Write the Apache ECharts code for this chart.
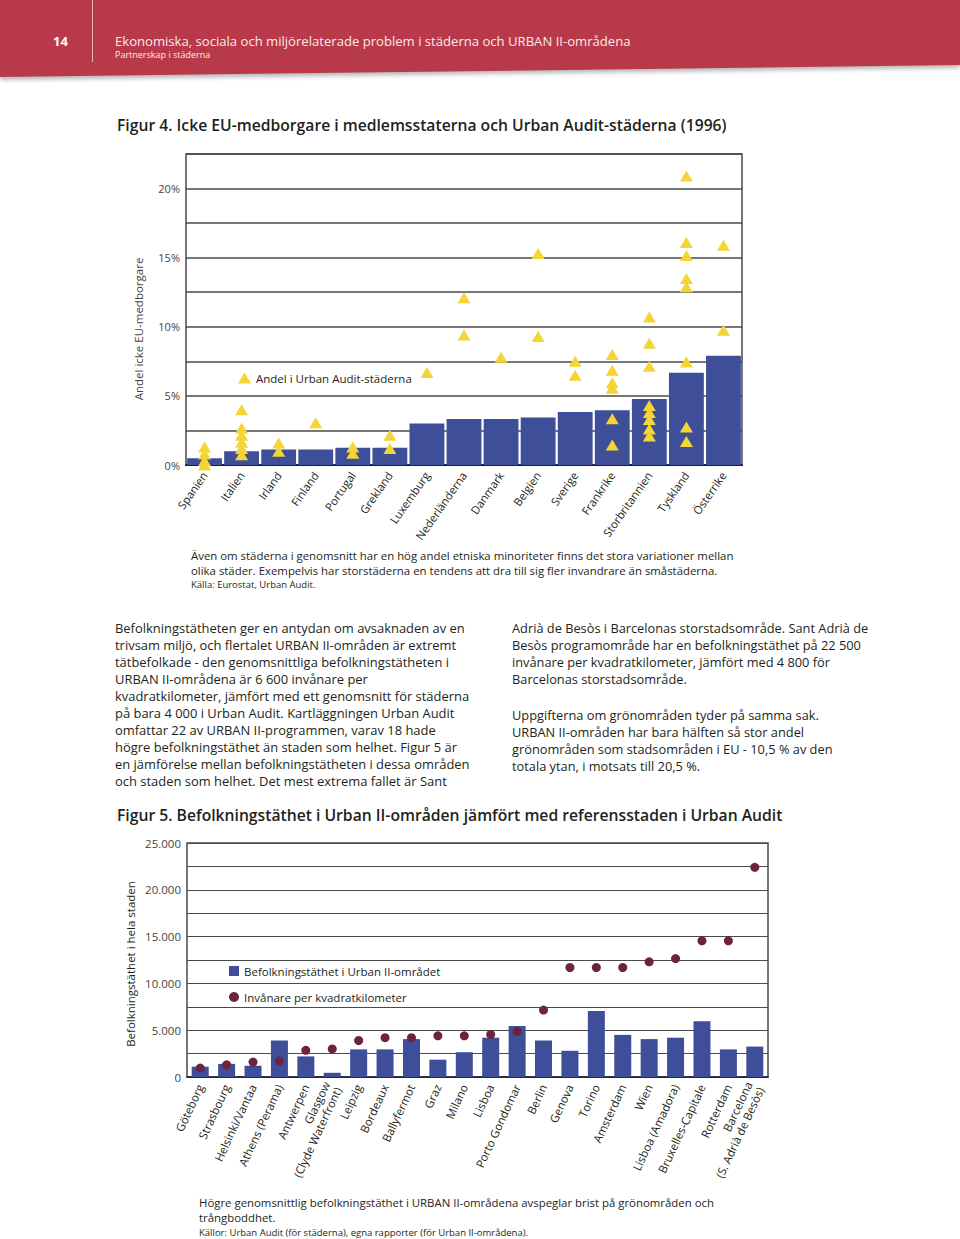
<!DOCTYPE html>
<html><head><meta charset="utf-8">
<script src="https://cdn.jsdelivr.net/npm/echarts/dist/echarts.min.js"></script>
<style>
html,body{margin:0;padding:0;background:#fff;}
#page{position:relative;width:960px;height:1239px;overflow:hidden;font-family:"Open Sans",sans-serif;color:#231f20;}
#chart{position:absolute;left:0;top:0;width:960px;height:1239px;}
.t{position:absolute;white-space:pre;}
</style></head>
<body><div id="page">
<svg style="position:absolute;left:0;top:0" width="960" height="90">
  <defs><filter id="sh" x="-5%" y="-50%" width="110%" height="200%"><feGaussianBlur stdDeviation="2"/></filter></defs>
  <polygon points="0,2 960,2 960,68 0,80" fill="#9a9a9a" filter="url(#sh)" opacity="0.7"/>
  <polygon points="0,0 960,0 960,65 0,77" fill="#b83a4a"/>
  <line x1="92.5" y1="0" x2="92.5" y2="62" stroke="#e8b9bf" stroke-width="1"/>
</svg>
<div class="t" style="left:53px;top:34px;font-size:13px;line-height:14px;font-weight:700;color:#fff;">14</div>
<div class="t" style="left:115px;top:34px;font-size:13.1px;line-height:14px;color:#fbe9eb;">Ekonomiska, sociala och miljörelaterade problem i städerna och URBAN II-områdena</div>
<div class="t" style="left:115px;top:49px;font-size:9px;line-height:11px;color:#fbe9eb;">Partnerskap i städerna</div>

<div class="t" style="left:117px;top:115px;font-size:15.7px;line-height:20px;font-weight:600;">Figur 4. Icke EU-medborgare i medlemsstaterna och Urban Audit-städerna (1996)</div>

<div id="chart"></div>

<div class="t" style="left:191px;top:548px;font-size:11.4px;line-height:15px;">Även om städerna i genomsnitt har en hög andel etniska minoriteter finns det stora variationer mellan
olika städer. Exempelvis har storstäderna en tendens att dra till sig fler invandrare än småstäderna.</div>
<div class="t" style="left:191px;top:578px;font-size:9.5px;line-height:14px;">Källa: Eurostat, Urban Audit.</div>

<div class="t" style="left:115px;top:620px;font-size:12.95px;line-height:17px;">Befolkningstätheten ger en antydan om avsaknaden av en
trivsam miljö, och flertalet URBAN II-områden är extremt
tätbefolkade - den genomsnittliga befolkningstätheten i
URBAN II-områdena är 6 600 invånare per
kvadratkilometer, jämfört med ett genomsnitt för städerna
på bara 4 000 i Urban Audit. Kartläggningen Urban Audit
omfattar 22 av URBAN II-programmen, varav 18 hade
högre befolkningstäthet än staden som helhet. Figur 5 är
en jämförelse mellan befolkningstätheten i dessa områden
och staden som helhet. Det mest extrema fallet är Sant</div>
<div class="t" style="left:512px;top:620px;font-size:12.8px;line-height:17px;">Adrià de Besòs i Barcelonas storstadsområde. Sant Adrià de
Besòs programområde har en befolkningstäthet på 22 500
invånare per kvadratkilometer, jämfört med 4 800 för
Barcelonas storstadsområde.</div>
<div class="t" style="left:512px;top:707px;font-size:12.8px;line-height:17px;">Uppgifterna om grönområden tyder på samma sak.
URBAN II-områden har bara hälften så stor andel
grönområden som stadsområden i EU - 10,5 % av den
totala ytan, i motsats till 20,5 %.</div>

<div class="t" style="left:117px;top:805px;font-size:15.7px;line-height:20px;font-weight:600;">Figur 5. Befolkningstäthet i Urban II-områden jämfört med referensstaden i Urban Audit</div>

<div class="t" style="left:199px;top:1195px;font-size:11.4px;line-height:15px;">Högre genomsnittlig befolkningstäthet i URBAN II-områdena avspeglar brist på grönområden och
trångboddhet.</div>
<div class="t" style="left:199px;top:1226px;font-size:9.5px;line-height:14px;">Källor: Urban Audit (för städerna), egna rapporter (för Urban II-områdena).</div>
</div>
<script>
// ---- Figur 4 data ----
const countries = ['Spanien','Italien','Irland','Finland','Portugal','Grekland','Luxemburg','Nederländerna','Danmark','Belgien','Sverige','Frankrike','Storbritannien','Tyskland','Österrike'];
const nationalShare = [0.48,1.0,1.13,1.13,1.25,1.25,3.0,3.32,3.32,3.44,3.84,3.97,4.78,6.68,7.91];
const cityShares = [
  [1.3,0.8,0.3,0.0],
  [4.0,2.65,2.15,1.65,1.2,0.75],
  [1.6,1.0],
  [3.05],
  [1.3,0.85],
  [2.15,1.2],
  [6.7],
  [12.1,9.4],
  [7.8],
  [15.3,9.3],
  [7.5,6.5],
  [8.0,6.85,5.95,5.55,3.35,1.45],
  [10.7,8.8,7.15,4.3,3.8,3.3,2.6,2.1],
  [20.9,16.1,15.15,13.5,12.9,7.45,2.75,1.7],
  [15.9,9.75]
];
const shareLabelStep = 5;

// ---- Figur 5 data ----
const cities = ['Göteborg','Strasbourg','Helsinki/Vantaa','Athens (Perama)','Antwerpen','Glasgow\n(Clyde Waterfront)','Leipzig','Bordeaux','Ballyfermot','Graz','Milano','Lisboa','Porto Gondomar','Berlin','Genova','Torino','Amsterdam','Wien','Lisboa (Amadora)','Bruxelles-Capitale','Rotterdam','Barcelona\n(S. Adrià de Besòs)'];
const urbanDensity = [1100,1400,1200,3900,2200,450,2950,2950,4050,1850,2650,4200,5450,3900,2800,7050,4500,4050,4200,5950,2950,3250];
const cityDensity = [950,1300,1600,1700,2850,3000,3900,4200,4200,4400,4400,4550,4850,7150,11700,11700,11700,12300,12650,14550,14550,22400];
const densityLabelStep = 5000;

const scatterPts = [];
cityShares.forEach((arr,i)=>arr.forEach(v=>scatterPts.push([i,v])));

const chart = echarts.init(document.getElementById('chart'), null, {renderer:'svg', width:960, height:1239});
const FONT = '"Open Sans", sans-serif';
const BLUE = '#3e4e99';
chart.setOption({
  animation:false,
  textStyle:{fontFamily:FONT},
  grid:[
    {left:186,top:154,width:556,height:311,show:true,borderColor:'#4a4a4a',borderWidth:1.5,backgroundColor:'transparent'},
    {left:187,top:843,width:581,height:234,show:true,borderColor:'#4a4a4a',borderWidth:1.5,backgroundColor:'transparent'}
  ],
  legend:[
    {left:233,top:367,itemWidth:13,itemHeight:11,icon:'triangle',data:['Andel i Urban Audit-städerna'],
     textStyle:{fontSize:11.5,color:'#231f20',fontFamily:FONT}},
    {left:224,top:960,orient:'vertical',itemWidth:10,itemHeight:10,itemGap:14,
     data:[{name:'Befolkningstäthet i Urban II-området',icon:'rect'},{name:'Invånare per kvadratkilometer',icon:'circle'}],
     textStyle:{fontSize:11.5,color:'#231f20',fontFamily:FONT}}
  ],
  xAxis:[
    {type:'category',gridIndex:0,data:countries,axisTick:{show:false},
     axisLine:{lineStyle:{color:'#1c1c3a',width:2}},
     axisLabel:{interval:0,rotate:55,fontSize:11.3,color:'#231f20',margin:8,fontFamily:FONT}},
    {type:'category',gridIndex:1,data:cities,axisTick:{show:false},
     axisLine:{lineStyle:{color:'#1c1c3a',width:1.5}},
     axisLabel:{interval:0,rotate:65,fontSize:11.5,lineHeight:13,color:'#231f20',margin:8,fontFamily:FONT}}
  ],
  yAxis:[
    {type:'value',gridIndex:0,min:0,max:22.5,interval:2.5,
     axisLine:{show:false},axisTick:{show:false},
     splitLine:{lineStyle:{color:'#4a4a4a',width:1.5}},
     axisLabel:{fontSize:11,color:'#444',margin:6,fontFamily:FONT,
       formatter:v=> (Math.abs(v/shareLabelStep-Math.round(v/shareLabelStep))<1e-6 ? Math.round(v)+'%' : '')}},
    {type:'value',gridIndex:1,min:0,max:25000,interval:2500,
     axisLine:{show:false},axisTick:{show:false},
     splitLine:{lineStyle:{color:'#4a4a4a',width:1.2}},
     axisLabel:{fontSize:11.5,color:'#444',margin:6,fontFamily:FONT,
       formatter:v=> (v%densityLabelStep===0 ? (v===0?'0':(v/1000)+'.000') : '')}}
  ],
  series:[
    {name:'Andel i medlemsstaten',type:'bar',xAxisIndex:0,yAxisIndex:0,data:nationalShare,barCategoryGap:'6%',
     itemStyle:{color:BLUE},z:2},
    {name:'Andel i Urban Audit-städerna',type:'scatter',xAxisIndex:0,yAxisIndex:0,data:scatterPts,
     symbol:'triangle',symbolSize:[13,11],itemStyle:{color:'#f4d535',opacity:1},z:3},
    {name:'Befolkningstäthet i Urban II-området',type:'bar',xAxisIndex:1,yAxisIndex:1,data:urbanDensity,barWidth:17,
     itemStyle:{color:BLUE},z:2},
    {name:'Invånare per kvadratkilometer',type:'scatter',xAxisIndex:1,yAxisIndex:1,data:cityDensity,
     symbol:'circle',symbolSize:9,itemStyle:{color:'#6d2240',opacity:1},z:3}
  ],
  graphic:[
    {type:'text',x:138,y:329,rotation:Math.PI/2,style:{text:'Andel icke EU-medborgare',fontSize:11.5,fill:'#444',fontFamily:FONT,align:'center',verticalAlign:'middle'}},
    {type:'text',x:130,y:964,rotation:Math.PI/2,style:{text:'Befolkningstäthet i hela staden',fontSize:11.5,fill:'#231f20',fontFamily:FONT,align:'center',verticalAlign:'middle'}}
  ]
});
</script>
</body></html>
